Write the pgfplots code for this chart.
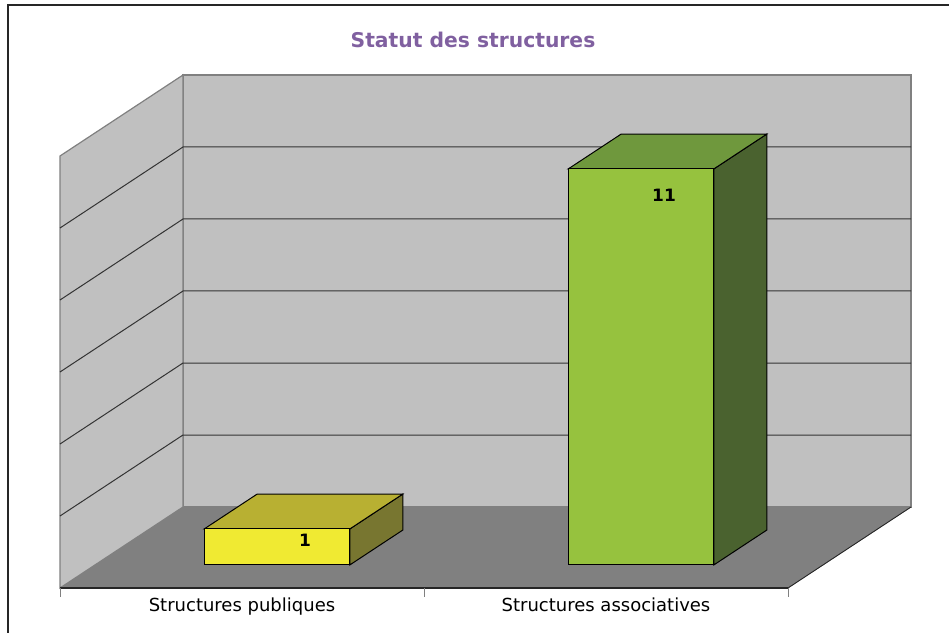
\documentclass[border=0pt]{standalone}
\usepackage{fontspec}
\setmainfont{DejaVu Sans}
\usepackage{pgfplots}
\pgfplotsset{compat=1.18}
\definecolor{titlepurple}{RGB}{128,96,160}
\definecolor{wallgray}{RGB}{192,192,192}
\definecolor{floorgray}{RGB}{128,128,128}
\definecolor{edgegray}{RGB}{128,128,128}
\definecolor{yfront}{RGB}{240,234,50}
\definecolor{ytop}{RGB}{184,176,50}
\definecolor{yside}{RGB}{120,118,48}
\definecolor{gfront}{RGB}{150,194,62}
\definecolor{gtop}{RGB}{111,152,61}
\definecolor{gside}{RGB}{74,98,47}

\begin{document}
\begin{tikzpicture}
\begin{axis}[
    x={(364pt,0pt)}, y={(123pt,81pt)}, z={(0pt,36pt)},
    xmin=0, xmax=2, ymin=0, ymax=1, zmin=0, zmax=12,
    clip=false,
    axis line style={draw=none},
    hide y axis, hide z axis,
    ytick=\empty, ztick=\empty,
    xtick={0.5,1.5},
    xticklabels={Structures publiques, Structures associatives},
    major tick length=0pt,
    xticklabel style={font=\fontsize{18}{21}\selectfont, anchor=north, yshift=-6pt},
]
% walls and floor
\addplot3[fill=floorgray, draw=edgegray] coordinates {(0,0,0) (2,0,0) (2,1,0) (0,1,0)} -- cycle;
\addplot3[fill=wallgray, draw=edgegray, line width=1.2pt] coordinates {(0,1,0) (2,1,0) (2,1,12) (0,1,12)} -- cycle;
\addplot3[fill=wallgray, draw=edgegray, line width=1.2pt] coordinates {(0,0,0) (0,1,0) (0,1,12) (0,0,12)} -- cycle;
% grid
\foreach \g in {2,4,6,8,10} {
  \edef\tmp{\noexpand\addplot3[black!80, line width=1pt] coordinates {(0,0,\g) (0,1,\g) (2,1,\g)};}
  \tmp
}
\addplot3[black!85, line width=0.9pt] coordinates {(2,0,0) (2,1,0)};
\addplot3[black!85, line width=1.6pt] coordinates {(0,0,0) (2,0,0)};
% bar 1 : Structures publiques = 1
\addplot3[fill=yside, draw=black, line width=1pt] coordinates {(0.7,0.285,0) (0.7,0.715,0) (0.7,0.715,1) (0.7,0.285,1)} -- cycle;
\addplot3[fill=ytop, draw=black, line width=1pt] coordinates {(0.3,0.285,1) (0.7,0.285,1) (0.7,0.715,1) (0.3,0.715,1)} -- cycle;
\addplot3[fill=yfront, draw=black, line width=1pt] coordinates {(0.3,0.285,0) (0.7,0.285,0) (0.7,0.285,1) (0.3,0.285,1)} -- cycle;
% bar 2 : Structures associatives = 11
\addplot3[fill=gside, draw=black, line width=1pt] coordinates {(1.7,0.285,0) (1.7,0.715,0) (1.7,0.715,11) (1.7,0.285,11)} -- cycle;
\addplot3[fill=gtop, draw=black, line width=1pt] coordinates {(1.3,0.285,11) (1.7,0.285,11) (1.7,0.715,11) (1.3,0.715,11)} -- cycle;
\addplot3[fill=gfront, draw=black, line width=1pt] coordinates {(1.3,0.285,0) (1.7,0.285,0) (1.7,0.285,11) (1.3,0.285,11)} -- cycle;
% data labels
\node[font=\bfseries\fontsize{17}{20}\selectfont] at (axis cs:0.577,0.285,0.67) {1};
\node[font=\bfseries\fontsize{17}{20}\selectfont] at (axis cs:1.563,0.285,10.28) {11};
% ticks
\foreach \t in {0,1,2} {
  \edef\tmp{\noexpand\draw[gray, line width=1pt] (axis cs:\t,0,0) -- ++(0pt,-9pt);}
  \tmp
}
\coordinate (O) at (axis cs:0,0,0);
\end{axis}
\pgfresetboundingbox
\useasboundingbox ([shift={(-60pt,588pt)}]O) rectangle ([shift={(889pt,-44pt)}]O);
\draw[black!85, line width=1.6pt] ([shift={(-52pt,-50pt)}]O) -- ([shift={(-52pt,583pt)}]O) -- ([shift={(895pt,583pt)}]O);
\node[font=\bfseries\fontsize{20.3}{24}\selectfont, text=titlepurple] at ([shift={(413pt,548pt)}]O) {Statut des structures};
\end{tikzpicture}
\end{document}
